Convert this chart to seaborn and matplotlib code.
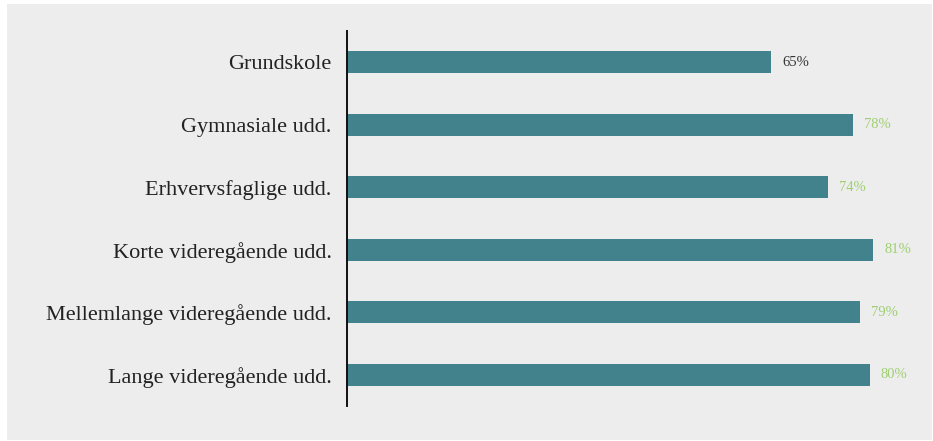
import pandas as pd
import numpy as np
import matplotlib.pyplot as plt
import seaborn as sns
from matplotlib.patches import Rectangle

categories = ['Grundskole', 'Gymnasiale udd.', 'Erhvervsfaglige udd.',
              'Korte videregående udd.', 'Mellemlange videregående udd.',
              'Lange videregående udd.']
values = [65.1, 77.7, 73.9, 80.8, 78.8, 80.3]
value_labels = ['65%', '78%', '74%', '81%', '79%', '80%']
label_colors = ['#333333', '#9fcf72', '#9fcf72', '#9fcf72', '#9fcf72', '#9fcf72']

df = pd.DataFrame({'category': categories, 'value': values})

sns.set_style('white')
plt.rcParams['font.family'] = ['Liberation Serif', 'DejaVu Serif']

fig = plt.figure(figsize=(9.33, 4.41), dpi=100, facecolor='white')
# grey panel behind the chart
fig.patches.append(Rectangle((7 / 933, 1 / 441), 925 / 933, 436 / 441,
                             transform=fig.transFigure, facecolor='#ededed',
                             edgecolor='none', zorder=-1))

ax = fig.add_axes([347 / 933, 35 / 441, 573 / 933, 375 / 441])
ax.set_facecolor('none')

sns.barplot(x='value', y='category', data=df, orient='h', color='#41828c',
            saturation=1, width=0.35, linewidth=0, ax=ax)

for i, (v, lab, c) in enumerate(zip(values, value_labels, label_colors)):
    ax.text(v + 1.7, i, lab, va='center', ha='left', fontsize=10.5, color=c)

ax.set_xlim(0, 88)
ax.set_ylim(5.5, -0.5)
ax.set_xlabel('')
ax.set_ylabel('')
ax.set_xticks([])
ax.tick_params(axis='y', length=0, pad=11, labelsize=16, labelcolor='#222222')

for side in ['top', 'right', 'bottom']:
    ax.spines[side].set_visible(False)
ax.spines['left'].set_color('#111111')
ax.spines['left'].set_linewidth(1.4)

plt.savefig('out.png', dpi=100, facecolor='white')
plt.close()
